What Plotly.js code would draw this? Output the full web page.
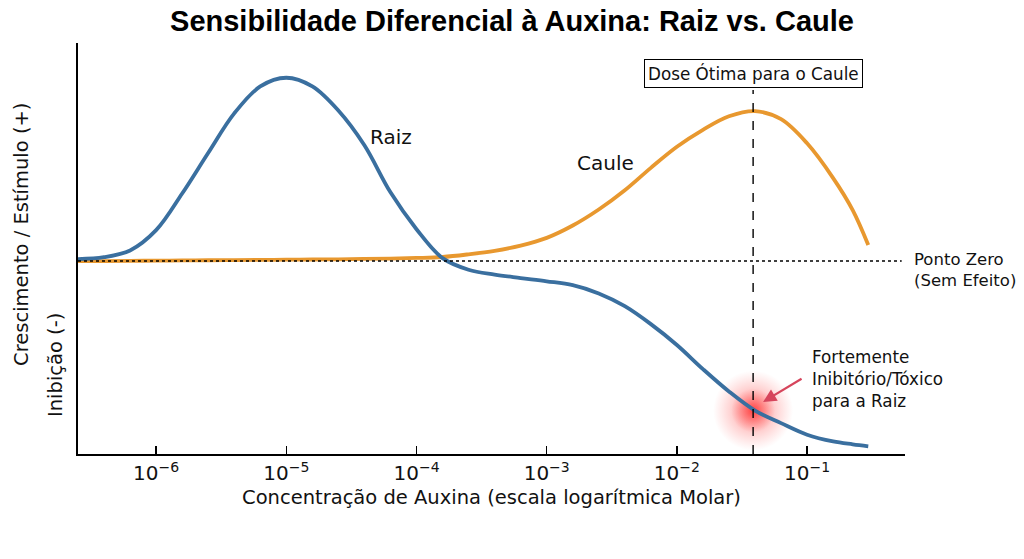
<!DOCTYPE html>
<html>
<head>
<meta charset="utf-8">
<script src="https://cdn.plot.ly/plotly-3.0.1.min.js"></script>
<style>
  html, body { margin: 0; padding: 0; background: #fff; }
  #chart { width: 1024px; height: 559px; }
</style>
</head>
<body>
<div id="chart"></div>
<script>
var concentracao = [2.51e-7, 3.98e-7, 6.31e-7, 1e-6, 1.585e-6, 2.51e-6, 3.98e-6, 6.31e-6,
    1e-5, 1.585e-5, 2.51e-5, 3.98e-5, 6.31e-5, 1e-4, 1.585e-4, 2.51e-4, 3.98e-4, 6.31e-4,
    1e-3, 1.585e-3, 2.51e-3, 3.98e-3, 6.31e-3, 1e-2, 1.585e-2, 2.51e-2, 3.98e-2, 6.31e-2,
    0.1, 0.1585, 0.224, 0.295];
var raiz = [0.01, 0.02, 0.055, 0.16, 0.35, 0.56, 0.765, 0.905, 0.95, 0.905, 0.78, 0.60,
    0.356, 0.165, 0.015, -0.045, -0.07, -0.088, -0.105, -0.125, -0.168, -0.234, -0.327,
    -0.435, -0.56, -0.676, -0.775, -0.84, -0.90, -0.935, -0.95, -0.96];
var caule = [0.0, 0.0, 0.001, 0.002, 0.003, 0.004, 0.005, 0.006, 0.007, 0.008, 0.009,
    0.011, 0.013, 0.016, 0.021, 0.035, 0.053, 0.08, 0.12, 0.184, 0.267, 0.367, 0.483,
    0.592, 0.68, 0.75, 0.777, 0.735, 0.61, 0.43, 0.264, 0.083];

var doseOtima = 0.0385;
var pontoToxico = [0.0385, -0.775];
var tickVals = [1e-6, 1e-5, 1e-4, 1e-3, 1e-2, 1e-1];
var tickText = ['10<sup>−6</sup>', '10<sup>−5</sup>', '10<sup>−4</sup>',
    '10<sup>−3</sup>', '10<sup>−2</sup>', '10<sup>−1</sup>'];

const chart = document.getElementById('chart');
const FONT = 'DejaVu Sans, sans-serif';

var traces = [
    {   // brilho vermelho no ponto tóxico (halo largo)
        x: [pontoToxico[0]], y: [pontoToxico[1]],
        type: 'scatter', mode: 'markers', hoverinfo: 'skip',
        marker: {size: 80, color: 'rgba(255,90,90,0)', line: {width: 0},
            gradient: {type: 'radial', color: 'rgba(255,40,40,0.55)'}}
    },
    {   // núcleo do brilho
        x: [pontoToxico[0]], y: [pontoToxico[1]],
        type: 'scatter', mode: 'markers', hoverinfo: 'skip',
        marker: {size: 44, color: 'rgba(255,60,60,0)', line: {width: 0},
            gradient: {type: 'radial', color: 'rgba(255,20,20,0.6)'}}
    },
    {
        x: concentracao, y: caule, type: 'scatter', mode: 'lines', name: 'Caule',
        line: {color: '#e8982f', width: 3.8, shape: 'spline', smoothing: 1}
    },
    {
        x: concentracao, y: raiz, type: 'scatter', mode: 'lines', name: 'Raiz',
        line: {color: '#3a6f9f', width: 3.8, shape: 'spline', smoothing: 1}
    }
];

var layout = {
    width: 1024, height: 559,
    margin: {l: 78, r: 119, t: 43, b: 105},
    paper_bgcolor: '#fff', plot_bgcolor: '#fff',
    showlegend: false,
    font: {family: FONT, color: '#111', size: 15},
    title: {
        text: '<b>Sensibilidade Diferencial à Auxina: Raiz vs. Caule</b>',
        font: {family: 'Liberation Sans Narrow, Liberation Sans, Arial, sans-serif', size: 29, color: '#000'},
        x: 0.5, xref: 'container', xanchor: 'center', y: 0.962, yanchor: 'middle'
    },
    xaxis: {
        type: 'log', range: [-6.6, -0.248],
        tickvals: tickVals, ticktext: tickText,
        ticks: 'inside', ticklen: 8, tickwidth: 1.5, tickcolor: '#000',
        tickfont: {family: FONT, size: 20, color: '#111'},
        showgrid: false, zeroline: false,
        showline: true, linecolor: '#000', linewidth: 2,
        title: {text: 'Concentração de Auxina (escala logarítmica Molar)',
            font: {family: FONT, size: 19.5, color: '#111'}, standoff: 6}
    },
    yaxis: {
        range: [-1, 1.13], showticklabels: false, ticks: '',
        showgrid: false, zeroline: false,
        showline: true, linecolor: '#000', linewidth: 2
    },
    shapes: [
        {type: 'line', xref: 'paper', yref: 'y', x0: 0, x1: 0.996, y0: 0, y1: 0,
            line: {color: '#000', width: 1.4, dash: 'dot'}},
        {type: 'line', xref: 'x', yref: 'y', x0: doseOtima, x1: doseOtima, y0: -1, y1: 0.886,
            line: {color: '#000', width: 1.4, dash: 'dash'}}
    ],
    annotations: [
        {x: Math.log10(6.38e-5), y: 0.642, text: 'Raiz', showarrow: false,
            font: {family: FONT, size: 20, color: '#111'}},
        {x: Math.log10(2.81e-3), y: 0.508, text: 'Caule', showarrow: false,
            font: {family: FONT, size: 20, color: '#111'}},
        {x: Math.log10(doseOtima), y: 0.974, text: 'Dose Ótima para o Caule', showarrow: false,
            font: {family: FONT, size: 16.8, color: '#111'},
            bgcolor: '#fff', bordercolor: '#000', borderwidth: 1, borderpad: 3},
        {xref: 'paper', x: 1.008, y: -0.044, xanchor: 'left', yanchor: 'middle', align: 'left',
            text: 'Ponto Zero<br>(Sem Efeito)', showarrow: false,
            font: {family: FONT, size: 16.5, color: '#111'}},
        {x: Math.log10(0.1055), y: -0.611, xanchor: 'left', yanchor: 'middle', align: 'left',
            text: 'Fortemente<br>Inibitório/Tóxico<br>para a Raiz', showarrow: false,
            font: {family: FONT, size: 16.8, color: '#111'}},
        {x: Math.log10(0.0459), y: -0.73, text: '', showarrow: true,
            ax: 40, ay: -24, arrowhead: 2, arrowsize: 1.2, arrowwidth: 2.2,
            arrowcolor: '#d6455c', standoff: 0},
        {xref: 'paper', yref: 'paper', x: -0.0677, y: 0.533, xanchor: 'center', yanchor: 'middle',
            textangle: -90, text: 'Crescimento / Estímulo (+)', showarrow: false,
            font: {family: FONT, size: 19.5, color: '#111'}},
        {xref: 'paper', yref: 'paper', x: -0.0278, y: 0.2165, xanchor: 'center', yanchor: 'middle',
            textangle: -90, text: 'Inibição (-)', showarrow: false,
            font: {family: FONT, size: 19.5, color: '#111'}}
    ]
};

Plotly.newPlot(chart, traces, layout, {staticPlot: true});
</script>
</body>
</html>
